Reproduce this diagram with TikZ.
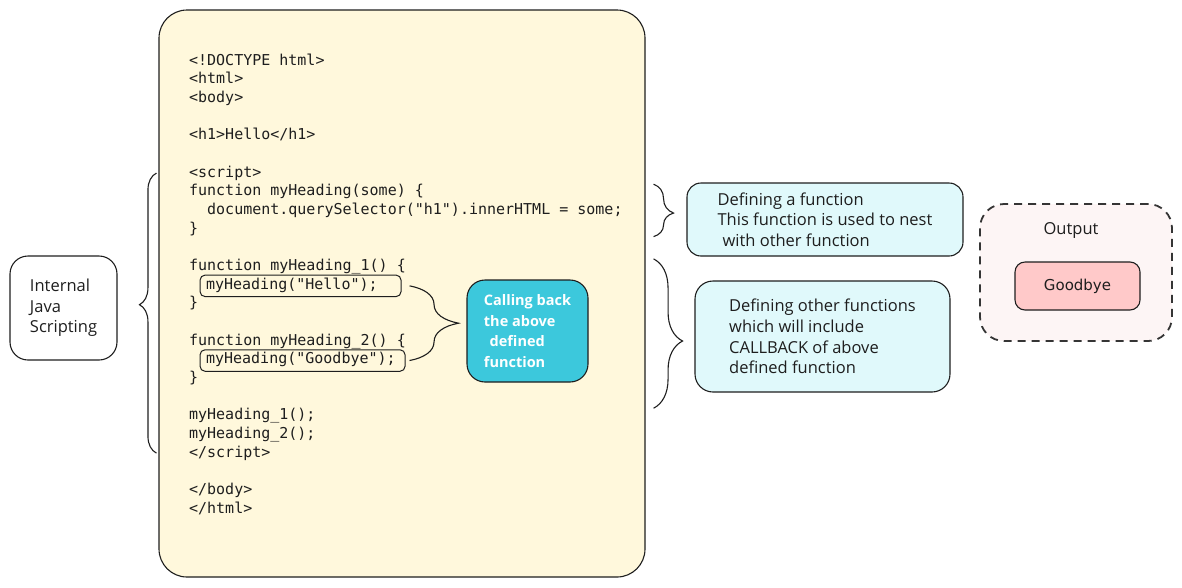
\documentclass[tikz,border=0pt]{standalone}
\usepackage{fontspec}
\setmainfont{Open Sans}
\setsansfont{DejaVu Sans}
\setmonofont{DejaVu Sans Mono}
\usetikzlibrary{%
  matrix,%
  positioning,%
  decorations.pathreplacing%
}
\definecolor{ink}{RGB}{30,30,30}
\definecolor{paper}{RGB}{255,248,220}
\definecolor{pale}{RGB}{224,249,251}
\definecolor{lagoon}{RGB}{60,200,220}
\definecolor{rose}{RGB}{255,201,201}
\definecolor{blush}{RGB}{253,245,245}

\begin{document}
\begin{tikzpicture}[x=1pt,y=-1pt,line width=1.1pt,draw=ink,
  card/.style={draw=ink,rounded corners=#1,align=left},
  card/.default=16pt,
  curly/.style={draw=ink,decorate,decoration={brace,amplitude=#1}},
  note/.style={font=\fontsize{16.5}{20.7}\selectfont,text=ink},
  callbox/.style={draw=ink,line width=1pt,rounded corners=5pt,inner xsep=6pt,inner ysep=3pt,
    text depth=4.5pt,xshift=11pt}]
\useasboundingbox (0,0) rectangle (1182,587);

\node[card=28pt,fill=paper,minimum width=486pt,minimum height=567pt] (page) at (402,293.5) {};

\matrix[matrix of nodes,inner sep=0pt,anchor=north west,
  row sep={18.67pt,between origins},
  nodes={anchor=base west,inner sep=0pt,text height=11pt,text depth=3pt,
    font=\ttfamily\fontsize{15}{18}\selectfont,text=ink}] (code) at (188,53.5)
{
<!DOCTYPE html>\\
<html>\\
<body>\\
\\
<h1>Hello</h1>\\
\\
<script>\\
function myHeading(some) \{\\
\ \ document.querySelector("h1").innerHTML = some;\\
\}\\
\\
function myHeading\_1() \{\\
|[name=hello,callbox,text width=189pt]| myHeading("Hello");\\
\}\\
\\
function myHeading\_2() \{\\
|[name=goodbye,callbox,text width=193pt]| myHeading("Goodbye");\\
\}\\
\\
myHeading\_1();\\
myHeading\_2();\\
</script>\\
\\
</body>\\
</html>\\
};

\node[card=18pt,note,minimum width=107pt,minimum height=104pt] (internal) at (63.5,308) {Internal\\Java\\Scripting};
\node[card=18pt,fill=lagoon,text=white,font=\bfseries\fontsize{14.5}{20.5}\selectfont,
  minimum width=121pt,minimum height=102pt] (recall) at (527.5,331)
  {Calling back\\the above\\\hspace*{.4em}defined\\function};
\node[card=14pt,fill=pale,note,minimum width=276pt,minimum height=73pt] (define) at (825,219.5)
  {Defining a function\\This function is used to nest\\\hspace*{.3em}with other function};
\node[card=18pt,fill=pale,note,minimum width=255pt,minimum height=111pt] (others) at (822.5,336.5)
  {Defining other functions\\which will include\\CALLBACK of above\\defined function};

\node[draw=ink!90,dashed,dash pattern=on 8pt off 6pt,line width=1.8pt,rounded corners=24pt,
  fill=blush,minimum width=192pt,minimum height=137pt] (output) at (1076,272.5) {};
\node[note] (outlabel) at (1071,230) {Output};
\node[card=10pt,fill=rose,minimum width=125pt,minimum height=48pt,
  font=\sffamily\fontsize{15}{18}\selectfont,text=ink] (result) at (1077.5,286) {Goodbye};

% braces
\coordinate (lb) at ([xshift=-2pt]page.west);
\coordinate (rb) at ([xshift=8pt]page.east);
\coordinate (ib) at ([xshift=4pt]goodbye.east);
\draw[curly=17pt,decoration={aspect=0.53}] (lb |- code-22-1.center) -- (lb |- code-7-1.center);
\draw[curly=20pt,decoration={aspect=0.55}] (rb |- code-8-1.north) -- (rb |- code-10-1.south);
\draw[curly=29pt,decoration={aspect=0.55}] (rb |- code-12-1.north) -- (rb |- code-20-1.north);
\draw[curly=49pt] (ib |- hello.center) -- (ib);
\end{tikzpicture}
\end{document}
